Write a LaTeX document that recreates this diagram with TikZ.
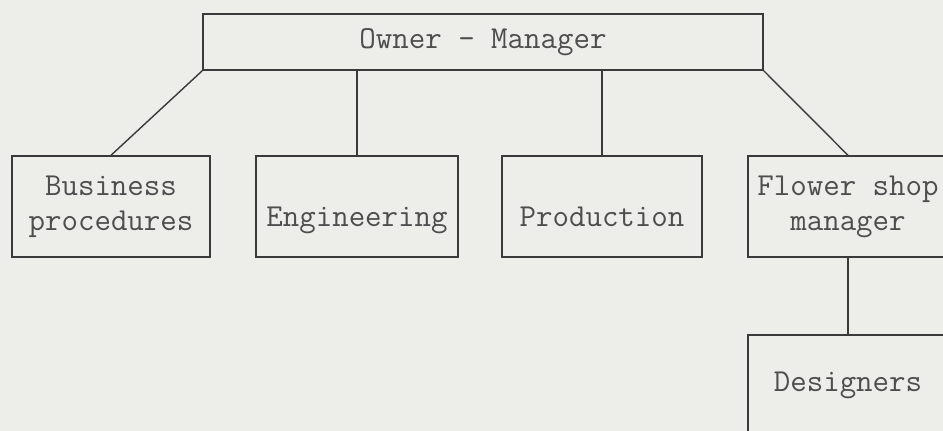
\documentclass[tikz,border=0pt]{standalone}
\usepackage{fontspec}
\definecolor{paper}{RGB}{237,237,234}
\definecolor{ink}{RGB}{58,58,58}
\tikzset{
  unit/.style={draw=ink, line width=1.4pt, text=ink!90, font=\fontsize{32}{35}\selectfont\ttfamily,
    align=center, inner sep=0pt, minimum width=200pt, minimum height=101pt},
  oneline/.style={execute at begin node={\rule[-10pt]{0pt}{60pt}}},
  link/.style={draw=ink, line width=1.4pt}
}
\begin{document}
\begin{tikzpicture}[x=1pt,y=1pt]
    \fill[paper](0,0) rectangle (943,-431);
    \useasboundingbox (0,0) rectangle (943,-431);
    \node[unit, minimum width=560pt, minimum height=56pt] (owner) at (483,-42) {Owner - Manager};
    \node[unit, minimum width=198pt] (business) at (111,-206.5) {Business\\procedures};
    \node[unit, oneline, minimum width=202pt] (engineering) at (357,-206.5) {Engineering};
    \node[unit, oneline] (production) at (602,-206.5) {Production};
    \node[unit] (flower) at (848,-206.5) {Flower shop\\manager};
    \node[unit] (designers) at (848,-385.5) {Designers};
    \draw[link](owner.south west)--(business.north);
    \draw[link](owner.south -| engineering.north)--(engineering.north);
    \draw[link](owner.south -| production.north)--(production.north);
    \draw[link](owner.south east)--(flower.north);
    \draw[link](flower.south)--(designers.north);
  \end{tikzpicture}
\end{document}
